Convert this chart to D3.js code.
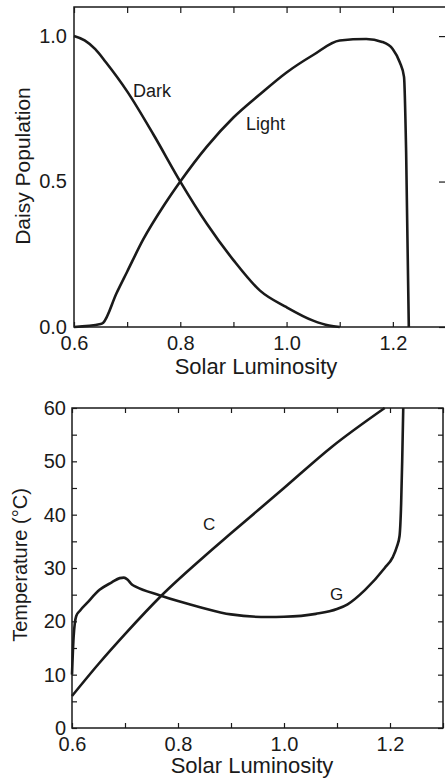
<!DOCTYPE html>
<html><head><meta charset="utf-8">
<script src="https://cdn.jsdelivr.net/npm/d3@7"></script>
<style>
html,body{margin:0;padding:0;background:#fff;}
svg{display:block;font-family:"Liberation Sans",Arial,Helvetica,sans-serif;}
</style></head>
<body>
<svg id="c" width="445" height="778"></svg>
<script>
// ---- Data ----
const darkDaisies = [[0.6,1.0],[0.62,0.985],[0.64,0.955],[0.66,0.91],[0.7,0.81],[0.75,0.66],[0.8,0.5],[0.85,0.355],[0.9,0.23],[0.95,0.125],[1.0,0.068],[1.05,0.022],[1.08,0.005],[1.1,0]];
const lightDaisies = [[0.6,0],[0.65,0.01],[0.655,0.015],[0.68,0.116],[0.7,0.19],[0.73,0.3],[0.77,0.42],[0.8,0.5],[0.85,0.62],[0.9,0.72],[0.95,0.8],[1.0,0.875],[1.05,0.935],[1.1,0.985],[1.15,0.99],[1.18,0.98],[1.2,0.955],[1.213,0.91],[1.221,0.86],[1.225,0.6],[1.23,0]];
const tempC = [[0.6,6],[0.65,12],[0.7,17.6],[0.768,24.75],[0.85,32.2],[0.9,36.5],[1.0,45],[1.09,52.7],[1.19,60]];
const tempG = [[0.6,10],[0.603,17],[0.608,21],[0.615,22],[0.628,23.4],[0.652,25.9],[0.675,27.3],[0.69,28.1],[0.698,28.2],[0.705,27.8],[0.713,26.9],[0.72,26.5],[0.765,24.9],[0.8,23.8],[0.84,22.7],[0.9,21.3],[0.97,20.8],[1.0,20.85],[1.06,21.4],[1.1,22.3],[1.12,23.2],[1.153,25.9],[1.19,30],[1.205,32],[1.213,34],[1.218,36],[1.221,42],[1.223,50],[1.225,60]];
const xTickLabels = [0.6, 0.8, 1.0, 1.2];
const xMinorTicks = [0.6,0.7,0.8,0.9,1.0,1.1,1.2,1.3];
const popTickLabels = [0.0, 0.5, 1.0];
const tempTickLabels = [0,10,20,30,40,50,60];
const tempMinorTicks = [0,5,10,15,20,25,30,35,40,45,50,55,60];

const svg = d3.select("#c");
const ink = "#1a1a1a";
const tickFont = 20, titleFont = 22;

function frame(g, x, y){
  const [x0,x1] = x.range(), [y1,y0] = y.range();
  g.append("rect").attr("x",x0).attr("y",y0).attr("width",x1-x0).attr("height",y1-y0)
   .attr("fill","none").attr("stroke",ink).attr("stroke-width",1.5);
}
const tickStyle = a=>{a.select(".domain").remove(); a.selectAll("line").attr("stroke",ink).attr("stroke-width",1.2);};
const labelStyle = a=>{a.select(".domain").remove(); a.selectAll("text").attr("fill",ink).attr("font-size",tickFont).attr("font-family",null);};

// ---- Top chart ----
{
  const x = d3.scaleLinear().domain([0.6,1.3]).range([74,446]);
  const y = d3.scaleLinear().domain([0,1.1]).range([327,7]);
  const g = svg.append("g");
  frame(g,x,y);
  g.append("g").attr("transform",`translate(0,${y(0)})`)
   .call(d3.axisTop(x).tickValues(xMinorTicks).tickSize(5).tickFormat("")).call(tickStyle);
  g.append("g").attr("transform",`translate(0,${y(1.1)})`)
   .call(d3.axisBottom(x).tickValues(xMinorTicks).tickSize(6).tickFormat("")).call(tickStyle);
  g.append("g").attr("transform",`translate(0,${y(0)})`)
   .call(d3.axisBottom(x).tickValues(xTickLabels).tickSize(0).tickPadding(9).tickFormat(d3.format(".1f"))).call(labelStyle);
  g.append("g").attr("transform",`translate(${x(0.6)},0)`)
   .call(d3.axisLeft(y).tickValues(popTickLabels).tickSize(0).tickPadding(7).tickFormat(d3.format(".1f"))).call(labelStyle);
  g.append("g").attr("transform",`translate(${x(1.3)},0)`)
   .call(d3.axisLeft(y).tickValues(popTickLabels).tickSize(7).tickFormat("")).call(tickStyle);

  const line = d3.line().x(d=>x(d[0])).y(d=>y(d[1])).curve(d3.curveMonotoneX);
  [darkDaisies, lightDaisies].forEach(s=>{
    g.append("path").attr("d",line(s)).attr("fill","none").attr("stroke",ink).attr("stroke-width",2.6).attr("stroke-linejoin","round");
  });
  g.append("text").attr("x",133).attr("y",97).attr("font-size",18).attr("fill",ink).text("Dark");
  g.append("text").attr("x",246).attr("y",130).attr("font-size",18).attr("fill",ink).text("Light");
  g.append("text").attr("x",256).attr("y",374).attr("text-anchor","middle").attr("font-size",titleFont).attr("fill",ink).text("Solar Luminosity");
  g.append("text").attr("transform","translate(30,166) rotate(-90)").attr("text-anchor","middle").attr("font-size",21).attr("fill",ink).text("Daisy Population");
}

// ---- Bottom chart ----
{
  const x = d3.scaleLinear().domain([0.6,1.3]).range([72,443]);
  const y = d3.scaleLinear().domain([0,60]).range([728,408]);
  const g = svg.append("g");
  frame(g,x,y);
  g.append("g").attr("transform",`translate(0,${y(0)})`)
   .call(d3.axisTop(x).tickValues(xMinorTicks).tickSize(5).tickFormat("")).call(tickStyle);
  g.append("g").attr("transform",`translate(0,${y(60)})`)
   .call(d3.axisBottom(x).tickValues(xMinorTicks).tickSize(5).tickFormat("")).call(tickStyle);
  g.append("g").attr("transform",`translate(${x(0.6)},0)`)
   .call(d3.axisRight(y).tickValues(tempMinorTicks).tickSize(5).tickFormat("")).call(tickStyle);
  g.append("g").attr("transform",`translate(${x(1.3)},0)`)
   .call(d3.axisLeft(y).tickValues(tempMinorTicks).tickSize(5).tickFormat("")).call(tickStyle);
  g.append("g").attr("transform",`translate(0,${y(0)})`)
   .call(d3.axisBottom(x).tickValues(xTickLabels).tickSize(0).tickPadding(9).tickFormat(d3.format(".1f"))).call(labelStyle);
  g.append("g").attr("transform",`translate(${x(0.6)},0)`)
   .call(d3.axisLeft(y).tickValues(tempTickLabels).tickSize(0).tickPadding(6).tickFormat(d3.format("d"))).call(labelStyle);

  const line = d3.line().x(d=>x(d[0])).y(d=>y(d[1])).curve(d3.curveMonotoneX);
  [tempC, tempG].forEach(s=>{
    g.append("path").attr("d",line(s)).attr("fill","none").attr("stroke",ink).attr("stroke-width",2.6).attr("stroke-linejoin","round");
  });
  g.append("text").attr("x",203).attr("y",530).attr("font-size",17).attr("fill",ink).text("C");
  g.append("text").attr("x",330).attr("y",600).attr("font-size",17).attr("fill",ink).text("G");
  g.append("text").attr("x",252).attr("y",773).attr("text-anchor","middle").attr("font-size",titleFont).attr("fill",ink).text("Solar Luminosity");
  g.append("text").attr("transform","translate(27,565) rotate(-90)").attr("text-anchor","middle").attr("font-size",20).attr("fill",ink).text("Temperature (°C)");
}
</script>
</body></html>
